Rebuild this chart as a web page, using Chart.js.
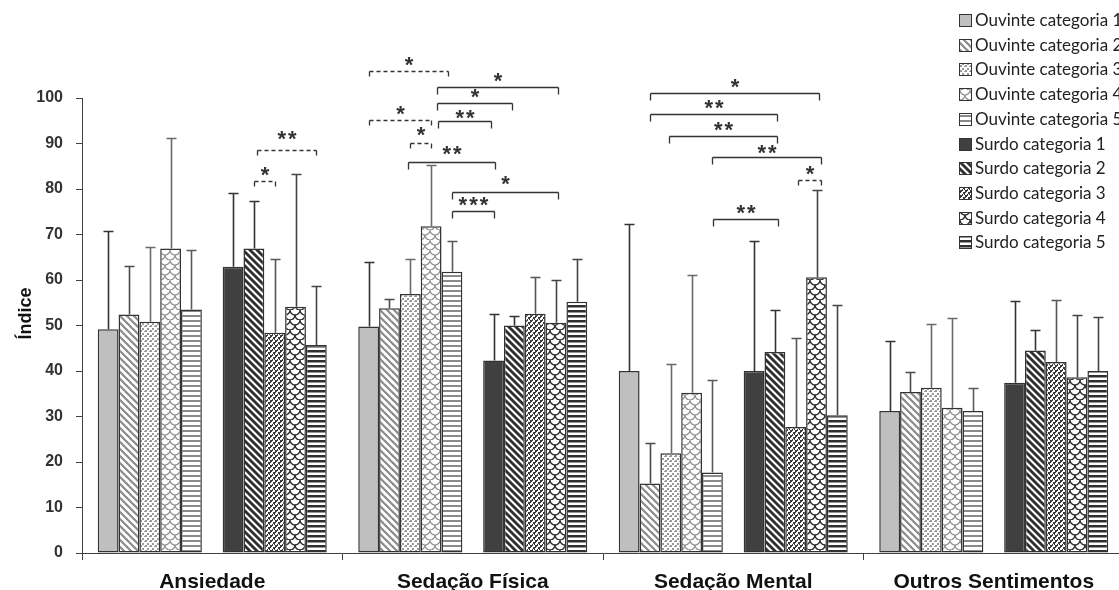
<!DOCTYPE html>
<html>
<head>
<meta charset="utf-8">
<script src="https://cdn.jsdelivr.net/npm/chart.js@4.4.1/dist/chart.umd.min.js"></script>
<style>
  html, body { margin: 0; padding: 0; overflow: hidden; background: #fff; }
  #wrap { position: relative; width: 1127px; height: 590px; }
</style>
</head>
<body>
<div id="wrap"><canvas id="chart"></canvas></div>
<script>
// ---- data ----
const categories = ['Ansiedade', 'Sedação Física', 'Sedação Mental', 'Outros Sentimentos'];
const yTicks = [0, 10, 20, 30, 40, 50, 60, 70, 80, 90, 100];
const yTitle = 'Índice';

const ouvinte1 = [49.2, 49.8, 40.0, 31.2];
const ouvinte2 = [52.4, 53.8, 15.3, 35.4];
const ouvinte3 = [50.8, 56.9, 21.9, 36.3];
const ouvinte4 = [66.9, 71.8, 35.2, 31.9];
const ouvinte5 = [53.5, 61.8, 17.7, 31.2];
const surdo1 = [62.9, 42.3, 40.0, 37.4];
const surdo2 = [66.9, 50.0, 44.2, 44.5];
const surdo3 = [48.4, 52.6, 27.7, 42.0];
const surdo4 = [54.1, 50.6, 60.6, 38.6];
const surdo5 = [45.7, 55.2, 30.3, 40.0];

// standard deviations (upper error bars)
const sdOuvinte1 = [21.5, 14.2, 32.2, 15.4];
const sdOuvinte2 = [10.7, 2.0, 8.9, 4.3];
const sdOuvinte3 = [16.4, 7.7, 19.6, 14.0];
const sdOuvinte4 = [24.3, 13.5, 25.9, 19.8];
const sdOuvinte5 = [13.2, 6.8, 20.3, 5.0];
const sdSurdo1 = [16.3, 10.3, 28.6, 18.0];
const sdSurdo2 = [10.5, 2.0, 9.3, 4.5];
const sdSurdo3 = [16.2, 8.1, 19.6, 13.6];
const sdSurdo4 = [29.1, 9.5, 19.2, 13.7];
const sdSurdo5 = [12.9, 9.4, 24.3, 11.9];

// significance brackets: [category, from bar, to bar, level, stars, dashed, extra lift]
// bars are numbered 0-4 (ouvinte), 5 = gap, 6-10 (surdo)
const comparisons = [
  [0, 7.0, 8.0, 81.8, '*', true, 0],
  [0, 7.15, 10.0, 88.6, '**', true, 5],
  [1, 0.0, 3.8, 106.0, '*', true, 0],
  [1, 3.3, 9.1, 102.5, '*', false, 0],
  [1, 3.3, 6.9, 99.0, '*', false, 0],
  [1, 0.0, 3.0, 95.2, '*', true, 0],
  [1, 3.35, 5.9, 95.0, '**', false, -3],
  [1, 2.0, 3.0, 90.2, '*', true, 2],
  [1, 1.9, 6.05, 85.9, '**', false, 2],
  [1, 4.0, 9.1, 79.4, '*', false, 2],
  [1, 4.0, 6.0, 75.2, '***', false, 0],
  [2, 1.0, 9.1, 101.2, '*', false, 0],
  [2, 1.0, 7.1, 96.5, '**', false, 0],
  [2, 1.9, 7.1, 91.7, '**', false, 0],
  [2, 4.0, 9.2, 87.0, '**', false, -2],
  [2, 8.1, 9.2, 82.0, '*', true, 0],
  [2, 4.05, 7.15, 73.3, '**', false, 0]
];

// ---- fill patterns ----
function makeTile(w, h, paint) {
  const c = document.createElement('canvas');
  c.width = w; c.height = h;
  const g = c.getContext('2d');
  g.fillStyle = '#ffffff';
  g.fillRect(0, 0, w, h);
  paint(g, w, h);
  return g.createPattern(c, 'repeat');
}
function diagonal(fg, lw, p) {
  return makeTile(p, p, (g) => {
    g.strokeStyle = fg; g.lineWidth = lw;
    for (let k = -1; k <= 1; k++) {
      g.beginPath();
      g.moveTo(k * p - 1, -1);
      g.lineTo(k * p + p + 1, p + 1);
      g.stroke();
    }
  });
}
function dots(fg, pts) {
  return makeTile(5, 5, (g) => {
    g.fillStyle = fg;
    pts.forEach(([px, py, s]) => g.fillRect(px, py, s, s));
  });
}
function waves(fg, lw) {
  return makeTile(10, 10, (g) => {
    g.strokeStyle = fg; g.lineWidth = lw;
    [[5, 0], [0, 5], [10, 5], [5, 10]].forEach(([cx, cy]) => {
      g.beginPath();
      g.arc(cx, cy, 5, 0, Math.PI);
      g.stroke();
    });
  });
}
function hstripes(fg, thick, p) {
  return makeTile(4, p, (g) => {
    g.fillStyle = fg;
    g.fillRect(0, 0, 4, thick);
  });
}

const LIGHT = '#8a8a8a';
const DARK = '#2f2f2f';
const CAT_PCT = 0.879;

function series(label, data, sd, fill, errColor) {
  return {
    label, data, sd, errColor,
    backgroundColor: fill,
    borderColor: '#333333',
    borderWidth: 1.5,
    borderSkipped: false,
    categoryPercentage: CAT_PCT,
    barPercentage: 1.0
  };
}

const datasets = [
  series('Ouvinte categoria 1', ouvinte1, sdOuvinte1, '#bfbfbf', '#333333'),
  series('Ouvinte categoria 2', ouvinte2, sdOuvinte2, diagonal(LIGHT, 2.2, 7), '#4a4a4a'),
  series('Ouvinte categoria 3', ouvinte3, sdOuvinte3, dots('#999999', [[0, 0, 2], [2, 3, 2], [4, 1, 1]]), '#6a6a6a'),
  series('Ouvinte categoria 4', ouvinte4, sdOuvinte4, waves('#8f8f8f', 1.2), '#6a6a6a'),
  series('Ouvinte categoria 5', ouvinte5, sdOuvinte5, hstripes(LIGHT, 2, 5), '#5a5a5a'),
  { label: '', data: [null, null, null, null], categoryPercentage: CAT_PCT, barPercentage: 1.0 },
  series('Surdo categoria 1', surdo1, sdSurdo1, '#404040', '#333333'),
  series('Surdo categoria 2', surdo2, sdSurdo2, diagonal(DARK, 2.8, 7), '#333333'),
  series('Surdo categoria 3', surdo3, sdSurdo3, dots('#3a3a3a', [[0, 0, 2], [2, 0, 1], [0, 2, 1], [3, 2, 2], [2, 4, 1], [4, 4, 1]]), '#555555'),
  series('Surdo categoria 4', surdo4, sdSurdo4, waves(DARK, 1.5), '#444444'),
  series('Surdo categoria 5', surdo5, sdSurdo5, hstripes(DARK, 2.5, 5), '#444444')
];

// ---- plugins ----
const errorBars = {
  id: 'errorBars',
  afterDatasetsDraw(chart) {
    const { ctx, scales: { y } } = chart;
    ctx.save();
    ctx.lineWidth = 1.6;
    chart.data.datasets.forEach((ds, di) => {
      if (!ds.sd) return;
      const meta = chart.getDatasetMeta(di);
      ctx.strokeStyle = ds.errColor;
      meta.data.forEach((bar, i) => {
        const top = Math.round(y.getPixelForValue(ds.data[i] + ds.sd[i])) + 0.5;
        const xx = Math.round(bar.x) + 0.5;
        ctx.beginPath();
        ctx.moveTo(xx, bar.y);
        ctx.lineTo(xx, top);
        ctx.moveTo(xx - 5, top);
        ctx.lineTo(xx + 5, top);
        ctx.stroke();
      });
    });
    ctx.restore();
  }
};

const brackets = {
  id: 'brackets',
  afterDraw(chart) {
    const { ctx, scales: { x, y } } = chart;
    const slotW = (x.width / categories.length) * CAT_PCT / 11;
    ctx.save();
    ctx.strokeStyle = '#333333';
    ctx.lineWidth = 1.3;
    ctx.font = 'bold 22px "Liberation Sans", Arial, sans-serif';
    const m = ctx.measureText('*');
    const glyphShift = (m.actualBoundingBoxAscent - m.actualBoundingBoxDescent) / 2;
    comparisons.forEach(([g, a, b, level, stars, dashed, lift]) => {
      const cx = x.getPixelForValue(g);
      const xa = Math.round(cx + (a - 5) * slotW) + 0.5;
      const xb = Math.round(cx + (b - 5) * slotW) + 0.5;
      const yy = Math.round(y.getPixelForValue(level)) + 0.5;
      const tick = dashed ? 5 : 7;
      ctx.setLineDash(dashed ? [4, 3] : []);
      ctx.beginPath();
      ctx.moveTo(xa, yy);
      ctx.lineTo(xb, yy);
      ctx.stroke();
      ctx.setLineDash([]);
      ctx.beginPath();
      ctx.moveTo(xa, yy); ctx.lineTo(xa, yy + tick);
      ctx.moveTo(xb, yy); ctx.lineTo(xb, yy + tick);
      ctx.stroke();
      const mid = (xa + xb) / 2;
      const centerY = yy - 10 - lift;
      ctx.fillStyle = '#333333';
      ctx.textAlign = 'center';
      ctx.textBaseline = 'alphabetic';
      const n = stars.length;
      for (let i = 0; i < n; i++) {
        ctx.fillText('*', mid + (i - (n - 1) / 2) * 10.6, centerY + glyphShift);
      }
    });
    ctx.restore();
  }
};

const sideLegend = {
  id: 'sideLegend',
  afterDraw(chart) {
    const { ctx } = chart;
    ctx.save();
    ctx.font = '17px Lato, "Open Sans", sans-serif';
    ctx.textBaseline = 'middle';
    ctx.textAlign = 'left';
    chart.data.datasets.filter(d => d.label).forEach((d, k) => {
      const cy = Math.round(20 + k * 24.7);
      ctx.fillStyle = d.backgroundColor;
      ctx.fillRect(959, cy - 6, 13, 13);
      ctx.strokeStyle = '#333333';
      ctx.lineWidth = 1;
      ctx.strokeRect(959.5, cy - 5.5, 12, 12);
      ctx.fillStyle = '#222222';
      ctx.fillText(d.label, 975, cy + 1);
    });
    ctx.restore();
  }
};

// y axis title, rotated, placed beside the tick labels
const axisTitle = {
  id: 'axisTitle',
  afterDraw(chart) {
    const { ctx, scales: { y } } = chart;
    ctx.save();
    ctx.translate(y.left + 26, (y.top + y.bottom) / 2 - 12);
    ctx.rotate(-Math.PI / 2);
    ctx.font = 'bold 18px "Liberation Sans", Arial, sans-serif';
    ctx.fillStyle = '#111111';
    ctx.textAlign = 'center';
    ctx.textBaseline = 'middle';
    ctx.fillText(yTitle, 0, 0);
    ctx.restore();
  }
};

// ---- chart ----
new Chart(document.getElementById('chart'), {
  type: 'bar',
  data: { labels: categories, datasets },
  plugins: [errorBars, brackets, sideLegend, axisTitle],
  options: {
    responsive: true,
    maintainAspectRatio: false,
    animation: false,
    devicePixelRatio: 1,
    layout: { padding: { top: 98, right: 3, left: 0, bottom: 0 } },
    plugins: { legend: { display: false }, tooltip: { enabled: false } },
    scales: {
      x: {
        offset: true,
        grid: { offset: true, drawOnChartArea: false, drawTicks: true, tickLength: 7, color: '#404040' },
        border: { color: '#404040', width: 1 },
        ticks: {
          font: { family: '"Liberation Sans", Arial, sans-serif', size: 21, weight: 'bold' },
          color: '#111111', padding: 10, maxRotation: 0, autoSkip: false
        },
        afterFit(s) { s.height = 37; }
      },
      y: {
        min: yTicks[0], max: yTicks[yTicks.length - 1],
        afterBuildTicks(s) { s.ticks = yTicks.map(v => ({ value: v })); },
        grid: { drawOnChartArea: false, drawTicks: true, tickLength: 6, color: '#404040' },
        border: { color: '#404040', width: 1 },
        ticks: {
          font: { family: '"Liberation Sans", Arial, sans-serif', size: 16, weight: 'bold' },
          color: '#333333', padding: 13
        },
        afterFit(s) { s.width = 82; }
      }
    }
  }
});
</script>
</body>
</html>
